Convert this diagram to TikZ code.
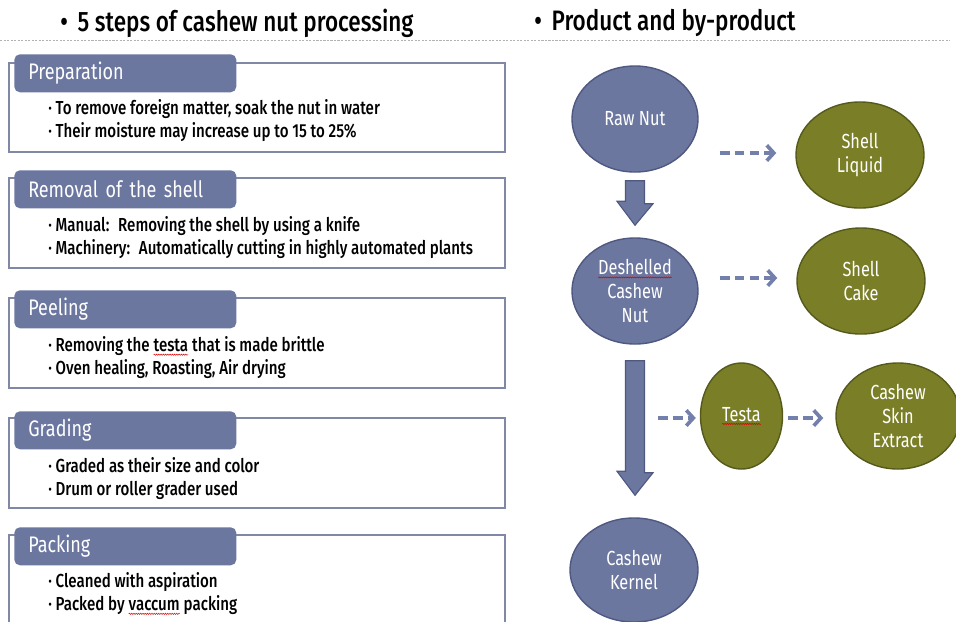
\documentclass[tikz,border=0pt]{standalone}
\usepackage{fontspec}
\setmainfont{Fira Sans}[FakeStretch=0.8,BoldFont={Fira Sans Medium}]
\usetikzlibrary{arrows.meta,positioning,shapes.geometric,calc,decorations.pathmorphing}

\definecolor{stepblue}{HTML}{6C77A0}
\definecolor{stepedge}{HTML}{4E5880}
\definecolor{framegray}{HTML}{8188A6}
\definecolor{byolive}{HTML}{7A7F27}
\definecolor{byedge}{HTML}{55591C}
\definecolor{dashblue}{HTML}{7480AC}

% red wavy underline of the spell checker
\newcommand{\spellmark}[1]{\tikz[baseline=(sw.base)]{%
  \node[shape=rectangle,draw=none,fill=none,minimum width=0pt,minimum height=0pt,
        inner sep=0pt,outer sep=0pt] (sw) {#1};
  \draw[red!85!black,line width=0.35pt,decorate,
        decoration={snake,amplitude=0.45pt,segment length=1.6pt}]
    ([yshift=-2pt]sw.base west) -- ([yshift=-2pt]sw.base east);}}

\begin{document}
\begin{tikzpicture}[x=0.025cm,y=-0.025cm,
    heading/.style={anchor=west,inner sep=0pt,font=\bfseries\fontsize{20}{22}\selectfont},
    sepline/.style={draw=gray!60,line width=0.6pt,dash pattern=on 1.5pt off 1pt},
    stepframe/.style={draw=framegray,line width=1.3pt},
    steplabel/.style={anchor=north west,rounded corners=4pt,fill=stepblue,text=white,
        minimum width=5.55cm,minimum height=0.95cm,text width=4.85cm,inner xsep=0.35cm,
        align=left,font=\fontsize{16}{18}\selectfont},
    steptext/.style={anchor=west,inner sep=0pt,align=left,
        font=\bfseries\fontsize{13.4}{16.4}\selectfont},
    nut/.style={ellipse,line width=1pt,text=white,align=center,inner sep=0pt,
        font=\fontsize{14.5}{17}\selectfont},
    mainnut/.style={nut,fill=stepblue,draw=stepedge},
    bynut/.style={nut,fill=byolive,draw=byedge},
    blockarr/.style={fill=stepblue,draw=stepedge,line width=0.8pt,line join=miter},
    dasharr/.style={draw=dashblue,line width=2.6pt,dash pattern=on 7pt off 3.6pt,
        -{Straight Barb[length=5pt,width=11pt]}}]
\useasboundingbox (0,0) rectangle (956,621);

% headings
\node[heading] (lefthead) at (60,23) {•\hspace{7pt}5 steps of cashew nut processing};
\node[heading] (righthead) at (534,23) {•\hspace{7pt}Product and by-product};
\draw[sepline] (0,40) -- (950,40);

% 5 steps
\draw[stepframe] (9,63) rectangle (505,152);
\node[steplabel] (prep) at (14,54) {Preparation};
\node[steptext] (preptxt) at (48,121)
  {· To remove foreign matter, soak the nut in water\\· Their moisture may increase up to 15 to 25\%};

\draw[stepframe] (9,178) rectangle (505,268);
\node[steplabel] (shell) at (14,170) {Removal of the shell};
\node[steptext] (shelltxt) at (48,238)
  {· Manual:~ Removing the shell by using a knife\\· Machinery:~ Automatically cutting in highly automated plants};

\draw[stepframe] (9,298) rectangle (505,388);
\node[steplabel] (peel) at (14,290) {Peeling};
\node[steptext] (peeltxt) at (48,358)
  {· Removing the \spellmark{testa} that is made brittle\\· Oven healing, Roasting, Air drying};

\draw[stepframe] (9,418) rectangle (505,508);
\node[steplabel] (grade) at (14,411) {Grading};
\node[steptext] (gradetxt) at (48,479)
  {· Graded as their size and color\\· Drum or roller grader used};

\draw[stepframe] (9,535) rectangle (505,650);
\node[steplabel] (pack) at (14,527) {Packing};
\node[steptext] (packtxt) at (48,594)
  {· Cleaned with aspiration\\· Packed by \spellmark{vaccum} packing};

% product and by-product
\node[mainnut,minimum width=3.15cm,minimum height=2.65cm] (rawnut) at (635,119) {Raw Nut};
\node[mainnut,minimum width=3.15cm,minimum height=2.65cm] (deshelled) at (635,291)
  {\spellmark{Deshelled}\\Cashew\\Nut};
\node[mainnut,minimum width=3.2cm,minimum height=2.6cm] (kernel) at (634,570) {Cashew\\Kernel};
\node[bynut,minimum width=3.2cm,minimum height=2.65cm] (shellliq) at (860,155) {Shell\\Liquid};
\node[bynut,minimum width=3.2cm,minimum height=2.65cm] (shellcake) at (861,281) {Shell\\Cake};
\node[bynut,minimum width=2.05cm,minimum height=2.65cm] (testa) at (741.5,416) {\spellmark{Testa}};
\node[bynut,minimum width=3.1cm,minimum height=2.65cm] (skinext) at (898,416) {Cashew\\Skin\\Extract};

\draw[blockarr] ($(rawnut.south)+(-9.5,8)$) -- ++(19,0) -- ++(0,23) -- ++(8.5,0)
  -- ($(deshelled.north)+(0,-12)$) -- ++(-18,-24) -- ++(8.5,0) -- cycle;
\draw[blockarr] ($(deshelled.south)+(-9.5,16)$) -- ++(19,0) -- ++(0,112) -- ++(8.5,0)
  -- ($(kernel.north)+(1,-22)$) -- ++(-18,-24) -- ++(8.5,0) -- cycle;

\draw[dasharr] ($(rawnut.east)+(21,34)$) -- ($(shellliq.west)+(-19,-2)$);
\draw[dasharr] ($(deshelled.east)+(21,-13)$) -- ($(shellcake.west)+(-19,-3)$);
\draw[dasharr] ($(testa.west)+(-42,2)$) -- ($(testa.west)+(-4,2)$);
\draw[dasharr] ($(testa.east)+(5,2)$) -- ($(skinext.west)+(-12,2)$);
\end{tikzpicture}
\end{document}
